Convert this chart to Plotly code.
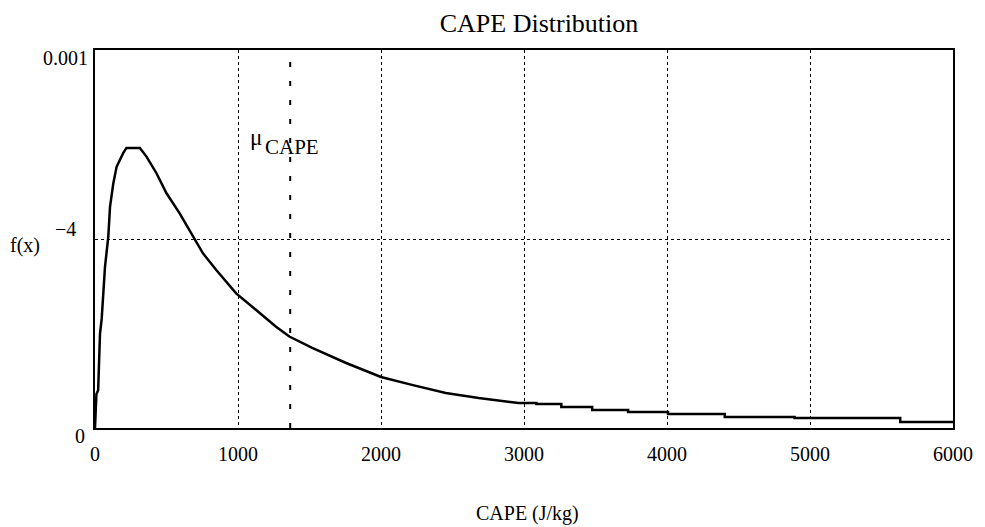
import plotly.graph_objects as go

# Values
cape_x = [0, 10, 22, 35, 47, 58, 70, 93, 105, 128, 151, 197, 220, 314, 360, 430, 500,
          592, 685, 755, 848, 987, 1127, 1266, 1359, 1519, 1756, 2000, 2216, 2453,
          2683, 2962, 3010, 3087, 3087, 3261, 3261, 3477, 3477, 3728, 3728, 4007, 4007,
          4404, 4404, 4892, 4892, 5631, 5631, 6000]
cape_f = [0.0, 0.000090, 0.000100, 0.000250, 0.000290, 0.000350, 0.000427, 0.000506,
          0.000585, 0.000647, 0.000691, 0.000727, 0.000741, 0.000741, 0.000718,
          0.000674, 0.000621, 0.000568, 0.000506, 0.000462, 0.000418, 0.000356,
          0.000312, 0.000268, 0.000242, 0.000212, 0.000172, 0.000135, 0.000114,
          0.0000926, 0.0000794, 0.0000661, 0.0000661, 0.0000661, 0.0000635, 0.0000635,
          0.0000556, 0.0000556, 0.0000476, 0.0000476, 0.0000423, 0.0000423, 0.0000370,
          0.0000370, 0.0000291, 0.0000291, 0.0000265, 0.0000265, 0.0000159, 0.0000159]
mu_cape = 1365

x_ticks = [0, 1000, 2000, 3000, 4000, 5000, 6000]
x_ticktext = ["0", "1000", "2000", "3000", "4000", "5000", "6000"]
y_ticks = [0, 0.0005, 0.001]

FONT = "Liberation Serif"
TXT = dict(family=FONT, size=20, color="black")

fig = go.Figure()
fig.add_trace(go.Scatter(x=cape_x, y=cape_f, mode="lines",
                         line=dict(color="black", width=2.5), showlegend=False,
                         hoverinfo="skip"))

fig.add_shape(type="line", x0=mu_cape, x1=mu_cape, y0=0, y1=0.001, xref="x", yref="y",
              line=dict(color="black", width=2, dash="5px,14px"))

# mu_CAPE label
fig.add_annotation(x=mu_cape, y=0.000743, xref="x", yref="y", xanchor="left",
                   yanchor="middle", text="CAPE", showarrow=False, xshift=-27,
                   font=dict(family=FONT, size=21, color="black"))
fig.add_annotation(x=mu_cape, y=0.000768, xref="x", yref="y", xanchor="right",
                   yanchor="middle", text="\u03bc", showarrow=False, xshift=-26,
                   font=dict(family=FONT, size=23, color="black"))

# y tick labels
fig.add_annotation(x=0, y=0.001, xref="paper", yref="y", xanchor="right", yanchor="middle",
                   text="0.001", showarrow=False, xshift=-5, yshift=-8, font=TXT)
fig.add_annotation(x=0, y=0.0005, xref="paper", yref="y", xanchor="right", yanchor="middle",
                   text="\u22124", showarrow=False, xshift=-17, yshift=10, font=TXT)
fig.add_annotation(x=0, y=0, xref="paper", yref="y", xanchor="right", yanchor="middle",
                   text="0", showarrow=False, xshift=-8, yshift=-8, font=TXT)
fig.add_annotation(x=0, y=0.000484, xref="paper", yref="y", xanchor="center",
                   yanchor="middle", text="f(x)", showarrow=False, xshift=-70, font=TXT)

# x axis title
fig.add_annotation(x=(530 - 95) / 862, y=(428 - 513) / 378, xref="paper", yref="paper",
                   xanchor="center", yanchor="middle", text="CAPE (J/kg)",
                   showarrow=False, font=TXT)

fig.update_layout(
    width=985, height=527,
    margin=dict(l=95, r=28, t=50, b=99),
    paper_bgcolor="white", plot_bgcolor="white",
    title=dict(text="CAPE Distribution", x=539 / 985, xanchor="center",
               y=1 - 23 / 527, yanchor="middle",
               font=dict(family=FONT, size=26, color="black")),
    font=dict(family=FONT, size=20, color="black"),
)
fig.update_xaxes(range=[0, 6000], tickvals=x_ticks, ticktext=x_ticktext,
                 showgrid=True, gridcolor="black", griddash="dot", gridwidth=1,
                 showline=True, linecolor="black", linewidth=2, mirror=True,
                 ticks="", zeroline=False, ticklabelstandoff=7,
                 tickfont=dict(family=FONT, size=20, color="black"))
fig.update_yaxes(range=[0, 0.001], tickvals=y_ticks, showticklabels=False,
                 showgrid=True, gridcolor="black", griddash="dot", gridwidth=1,
                 showline=True, linecolor="black", linewidth=2, mirror=True,
                 ticks="", zeroline=False)

fig.write_html("out.html")
